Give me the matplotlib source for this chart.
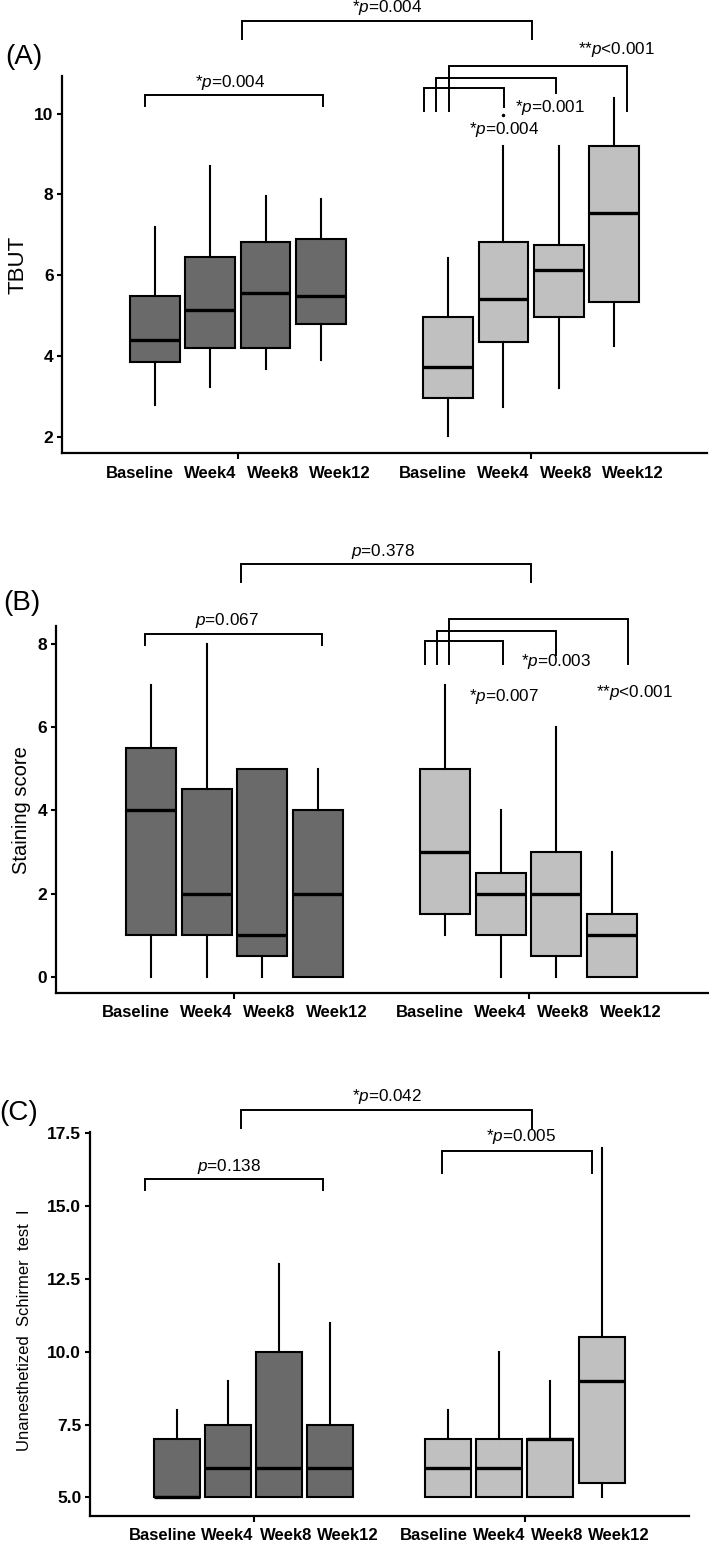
import matplotlib
matplotlib.use("Agg")
import matplotlib.pyplot as plt

plt.rcParams['font.family'] = ['Liberation Sans', 'DejaVu Sans']
plt.rcParams['mathtext.fontset'] = 'custom'
plt.rcParams['mathtext.rm'] = 'Liberation Sans'
plt.rcParams['mathtext.it'] = 'Liberation Sans:italic'

categories = ['Baseline', 'Week4', 'Week8', 'Week12']
positions = [1, 2, 3, 4, 6.3, 7.3, 8.3, 9.3]
group_centers = [2.5, 7.8]
# category labels sit a little wider apart than the boxes
label_shift = [-0.28, -0.01, 0.13, 0.34]

# TBUT
tbut_lo = [2.78, 3.24, 3.67, 3.90, 2.02, 2.74, 3.21, 4.24]
tbut_q1 = [3.86, 4.21, 4.20, 4.79, 2.95, 4.35, 4.97, 5.33]
tbut_med = [4.40, 5.15, 5.55, 5.48, 3.72, 5.41, 6.13, 7.55]
tbut_q3 = [5.49, 6.46, 6.81, 6.90, 4.97, 6.81, 6.75, 9.19]
tbut_hi = [7.20, 8.70, 7.97, 7.89, 6.42, 9.21, 9.21, 10.38]
tbut_fliers = [[], [], [], [], [], [9.97], [], []]

# Staining score
stain_lo = [0, 0, 0, 0, 1, 0, 0, 0]
stain_q1 = [1, 1, 0.5, 0, 1.5, 1, 0.5, 0]
stain_med = [4, 2, 1, 2, 3, 2, 2, 1]
stain_q3 = [5.5, 4.5, 5, 4, 5, 2.5, 3, 1.5]
stain_hi = [7, 8, 5, 5, 7, 4, 6, 3]

# Unanesthetized Schirmer test I
schir_lo = [5, 5, 5, 5, 5, 5, 5, 5]
schir_q1 = [5, 5, 5, 5, 5, 5, 5, 5.5]
schir_med = [5, 6, 6, 6, 6, 6, 7, 9]
schir_q3 = [7, 7.5, 10, 7.5, 7, 7, 7, 10.5]
schir_hi = [8, 9, 13, 11, 8, 10, 9, 17]

W, H = 709, 1548
fig = plt.figure(figsize=(W / 100, H / 100), dpi=100)
fig.patch.set_facecolor('white')

DARK = '#6a6a6a'
LIGHT = '#c0c0c0'


def px_axes(left, right, top, bottom):
    return fig.add_axes([left / W, 1 - bottom / H, (right - left) / W, (bottom - top) / H])


def ptxt(s):
    return s.replace('p', r'$\mathit{p}$')


def draw_panel(ax, lo, q1, med, q3, hi, fliers, xlim, ylim, yticks, yfmt):
    stats = []
    for i in range(len(positions)):
        stats.append(dict(whislo=lo[i], q1=q1[i], med=med[i], q3=q3[i], whishi=hi[i],
                          fliers=fliers[i] if fliers else []))
    bp = ax.bxp(stats, positions=positions, widths=0.9, patch_artist=True, showcaps=False,
                boxprops=dict(edgecolor='black', linewidth=1.5),
                medianprops=dict(color='black', linewidth=2.4),
                whiskerprops=dict(color='black', linewidth=1.5),
                flierprops=dict(marker='o', markersize=1.5, markerfacecolor='black',
                                markeredgecolor='black'))
    for i, b in enumerate(bp['boxes']):
        b.set_facecolor(DARK if i < 4 else LIGHT)
    ax.set_xlim(*xlim)
    ax.set_ylim(*ylim)
    for s in ['top', 'right']:
        ax.spines[s].set_visible(False)
    for s in ['left', 'bottom']:
        ax.spines[s].set_linewidth(1.6)
    ax.set_xticks(group_centers)
    ax.set_xticklabels(['', ''])
    label_pos = [p + label_shift[i % 4] for i, p in enumerate(positions)]
    ax.set_xticks(label_pos, minor=True)
    ax.set_xticklabels(categories * 2, minor=True, fontsize=12, fontweight='bold')
    ax.tick_params(axis='x', which='major', length=4.5, width=1.5)
    ax.tick_params(axis='x', which='minor', length=0, pad=9)
    ax.set_yticks(yticks)
    ax.set_yticklabels([yfmt.format(v) for v in yticks], fontsize=12.5, fontweight='bold')
    ax.tick_params(axis='y', length=3.6, width=1.5, pad=2.5)


def bracket(ax, xl, xr, y, yl, yr):
    ax.plot([xl, xl, xr, xr], [yl, y, y, yr], color='black', lw=1.4,
            solid_joinstyle='miter', clip_on=False)


def note(ax, x, y, s):
    ax.text(x, y, ptxt(s), ha='center', va='center', fontsize=12.3, clip_on=False)


# Panel A
axA = px_axes(62, 707, 76, 453)
draw_panel(axA, tbut_lo, tbut_q1, tbut_med, tbut_q3, tbut_hi, tbut_fliers,
           (-0.68, 10.98), (1.60, 10.93), [2, 4, 6, 8, 10], '{:d}')
bracket(axA, 2.57, 7.82, 12.29, 11.85, 11.85)
note(axA, 5.2, 12.62, '*p=0.004')
bracket(axA, 0.82, 4.04, 10.46, 10.19, 10.19)
note(axA, 2.37, 10.78, '*p=0.004')
bracket(axA, 5.86, 7.31, 10.63, 10.07, 10.17)
bracket(axA, 6.08, 8.25, 10.89, 10.07, 10.50)
bracket(axA, 6.31, 9.54, 11.18, 10.07, 10.07)
note(axA, 9.34, 11.58, '**p<0.001')
note(axA, 8.15, 10.14, '*p=0.001')
note(axA, 7.31, 9.60, '*p=0.004')

# Panel B
axB = px_axes(55.7, 708, 626, 992.7)
draw_panel(axB, stain_lo, stain_q1, stain_med, stain_q3, stain_hi, None,
           (-0.72, 11.03), (-0.38, 8.42), [0, 2, 4, 6, 8], '{:d}')
bracket(axB, 2.62, 7.85, 9.90, 9.48, 9.48)
note(axB, 5.18, 10.2, 'p=0.378')
bracket(axB, 0.88, 4.08, 8.24, 7.96, 7.96)
note(axB, 2.36, 8.54, 'p=0.067')
bracket(axB, 5.93, 7.34, 8.055, 7.50, 7.50)
bracket(axB, 6.14, 8.30, 8.30, 7.50, 7.72)
bracket(axB, 6.37, 9.58, 8.58, 7.50, 7.50)
note(axB, 8.3, 7.56, '*p=0.003')
note(axB, 7.35, 6.74, '*p=0.007')
note(axB, 9.7, 6.82, '**p<0.001')

# Panel C
axC = px_axes(89.7, 688.6, 1131.7, 1516)
draw_panel(axC, schir_lo, schir_q1, schir_med, schir_q3, schir_hi, None,
           (-0.70, 11.0), (4.36, 17.55), [5.0, 7.5, 10.0, 12.5, 15.0, 17.5], '{:.1f}')
bracket(axC, 2.26, 7.94, 18.3, 17.67, 17.67)
note(axC, 5.11, 18.76, '*p=0.042')
bracket(axC, 0.38, 3.85, 15.92, 15.55, 15.55)
note(axC, 2.02, 16.36, 'p=0.138')
bracket(axC, 6.18, 9.11, 16.89, 16.13, 16.13)
note(axC, 7.72, 17.38, '*p=0.005')

# panel letters and axis titles
fig.text(24 / W, 1 - 57 / H, '(A)', fontsize=20, ha='center', va='center')
fig.text(22 / W, 1 - 603 / H, '(B)', fontsize=20, ha='center', va='center')
fig.text(19 / W, 1 - 1113 / H, '(C)', fontsize=20, ha='center', va='center')
fig.text(17.5 / W, 1 - 265 / H, 'TBUT', fontsize=16, rotation=90, ha='center', va='center')
fig.text(21.7 / W, 1 - 810 / H, 'Staining score', fontsize=14.5, rotation=90,
         ha='center', va='center')
fig.text(25 / W, 1 - 1330 / H, 'Unanesthetized  Schirmer  test  I', fontsize=12,
         rotation=90, ha='center', va='center')

fig.savefig('out.png', dpi=100, facecolor='white')
